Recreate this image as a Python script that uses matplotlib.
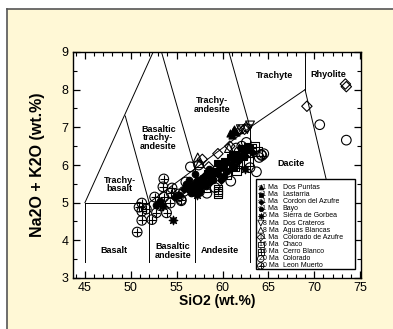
import matplotlib
matplotlib.use("Agg")
from matplotlib import pyplot as plt
from matplotlib.lines import Line2D
from matplotlib.patches import Rectangle
from matplotlib.ticker import MultipleLocator

plt.rcParams['font.family'] = ['Liberation Sans', 'DejaVu Sans']

# --- data (SiO2, Na2O+K2O) ---
dos_puntas_x = [60.8, 61.1, 61.3, 61.0, 61.5]
dos_puntas_y = [6.85, 6.90, 6.95, 6.80, 6.88]

lastarria_x = [59.4, 58.3, 60.2, 61.5, 62.0, 57.9, 59.0, 60.8, 62.7, 61.2,
               60.0, 61.0, 62.4, 59.7, 58.7, 63.0, 57.3]
lastarria_y = [6.05, 5.80, 6.10, 6.30, 6.45, 5.60, 5.85, 6.20, 6.50, 5.95,
               6.00, 6.30, 6.40, 5.95, 5.75, 6.45, 5.55]

cordon_x = [56.5, 57.2, 58.0, 58.6, 59.2, 60.0, 61.7, 62.5, 57.6, 59.8, 63.2, 55.8,
            56.9, 57.9, 58.9, 59.5, 60.4, 61.2, 62.0, 56.2, 58.4]
cordon_y = [5.45, 5.60, 5.70, 5.55, 5.80, 5.95, 6.10, 6.25, 5.30, 5.60, 6.35, 5.35,
            5.50, 5.50, 5.65, 5.75, 6.05, 6.15, 6.20, 5.35, 5.70]

bayo_x = [56.0, 56.8, 57.5, 58.2, 59.0, 60.5, 58.5, 57.0, 61.0, 55.3, 54.8, 53.2, 52.8,
          56.3, 57.8, 58.8, 59.6, 60.2, 61.5, 62.2, 56.6, 57.3, 58.0]
bayo_y = [5.50, 5.35, 5.50, 5.45, 5.60, 5.85, 5.90, 5.75, 6.05, 5.20, 5.15, 5.05, 4.95,
          5.60, 5.65, 5.75, 5.90, 5.70, 6.20, 6.35, 5.25, 5.40, 5.55]

gorbea_x = [54.6, 57.2, 57.0, 62.5, 53.5]
gorbea_y = [4.53, 5.20, 5.25, 5.90, 4.90]

crateros_x = [63.0, 62.7, 62.0]
crateros_y = [7.05, 6.95, 6.95]

aguas_x = [57.3, 57.5, 61.8, 60.7]
aguas_y = [6.20, 6.05, 6.95, 6.45]

col_azufre_x = [73.4, 73.5, 69.2, 62.4, 62.6, 59.5, 60.8, 58.5, 57.8]
col_azufre_y = [8.15, 8.08, 7.56, 6.95, 7.00, 6.30, 6.50, 5.95, 6.15]

chaco_x = [59.5, 59.5, 61.5, 61.7, 63.5, 63.8, 62.8, 60.5, 58.2]
chaco_y = [5.25, 5.35, 5.85, 6.05, 6.50, 6.35, 6.10, 5.75, 5.40]

cerro_x = [59.5, 61.3, 63.2, 62.2, 60.2]
cerro_y = [5.30, 5.95, 6.45, 6.25, 6.00]

colorado_x = [70.6, 73.5, 56.5, 60.9, 63.7, 63.0, 62.6, 64.2, 55.5, 55.2, 60.0,
              59.2, 58.3, 61.5, 55.8, 57.4, 62.1, 64.0, 64.5, 56.0, 61.8]
colorado_y = [7.07, 6.66, 5.95, 5.57, 5.82, 5.93, 6.60, 6.28, 5.05, 5.15, 5.85,
              5.40, 5.25, 6.45, 5.30, 6.00, 6.50, 6.20, 6.30, 5.55, 6.35]

leon_x = [50.7, 51.2, 51.2, 51.2, 50.9, 52.3, 52.8, 53.2, 53.6, 52.6, 54.4, 54.5,
          53.6, 53.5, 54.3, 55.2, 55.5, 51.7, 53.9, 64.3, 56.3, 58.2, 57.5]
leon_y = [4.22, 4.53, 4.77, 4.99, 4.88, 4.55, 4.73, 4.92, 5.15, 5.15, 5.26, 5.39,
          5.63, 5.42, 4.99, 5.23, 5.08, 4.83, 4.73, 6.25, 5.40, 5.60, 5.30]

ages = ['<1 Ma', '<1 Ma', '<1 Ma', '<1 Ma', '5 Ma', '8 Ma', '8 Ma',
        '11 Ma', '16 Ma', '16 Ma', '20 Ma', '20 Ma']
names = ['Dos Puntas', 'Lastarria', 'Cordon del Azufre', 'Bayo',
         'Sierra de Gorbea', 'Dos Crateros', 'Aguas Blancas',
         'Colorado de Azufre', 'Chaco', 'Cerro Blanco', 'Colorado', 'Leon Muerto']

# TAS field boundaries
tas_lines = [
    ([45, 45], [3.43, 5]), ([52, 52], [3.43, 5]), ([57, 57], [3.43, 5.9]),
    ([63, 63], [3.43, 7]), ([45, 52], [5, 5]),
    ([52, 57, 63, 69], [5, 5.9, 7, 8]),
    ([45, 52.44], [5, 9]), ([52, 49.4], [5, 7.3]),
    ([57, 53.35], [5.9, 9]), ([63, 60.7], [7, 9]),
    ([69, 69], [8, 9]), ([69, 72.0], [8, 4.9]),
]
field_labels = [
    (48.2, 3.73, 'Basalt'), (54.6, 3.72, 'Basaltic\nandesite'),
    (59.7, 3.73, 'Andesite'), (67.5, 6.03, 'Dacite'),
    (48.8, 5.48, 'Trachy-\nbasalt'), (53.0, 6.72, 'Basaltic\ntrachy-\nandesite'),
    (58.9, 7.60, 'Trachy-\nandesite'), (65.7, 8.37, 'Trachyte'),
    (71.5, 8.40, 'Rhyolite'),
]

fig = plt.figure(figsize=(3.93, 3.29), dpi=100)
fig.patch.set_facecolor('white')
W, H = 393.0, 329.0
fig.add_artist(Rectangle((7 / W, 0), 1, 1 - 9 / H, transform=fig.transFigure,
                         facecolor='#fff8d6', edgecolor='none', zorder=-10))
fig.add_artist(Line2D([7 / W, 1], [1 - 9 / H, 1 - 9 / H], transform=fig.transFigure,
                      color='#555555', lw=1.2))
fig.add_artist(Line2D([7 / W, 7 / W], [0, 1 - 9 / H], transform=fig.transFigure,
                      color='#555555', lw=1.2))

ax = fig.add_axes([73 / W, 1 - 278 / H, 288 / W, 226 / H])
ax.set_facecolor('white')

for xs, ys in tas_lines:
    ax.plot(xs, ys, color='black', lw=0.7, zorder=1)
for x, y, t in field_labels:
    ax.text(x, y, t, ha='center', va='center', fontsize=6.5, fontweight='bold',
            linespacing=0.95, zorder=2)

# marker styles per group
styles = [
    dict(marker='^', s=26, facecolors='black', edgecolors='black'),
    dict(marker='s', s=24, facecolors='black', edgecolors='black'),
    dict(marker='D', s=16, facecolors='black', edgecolors='black'),
    dict(marker='o', s=22, facecolors='black', edgecolors='black'),
    dict(marker=(8, 1, 0), s=40, facecolors='black', edgecolors='black'),
    dict(marker='v', s=40, facecolors='none', edgecolors='black'),
    dict(marker='^', s=40, facecolors='none', edgecolors='black'),
    dict(marker='D', s=28, facecolors='none', edgecolors='black'),
    dict(marker='s', s=40, facecolors='none', edgecolors='black'),
    dict(marker='s', s=40, facecolors='none', edgecolors='black'),
    dict(marker='o', s=48, facecolors='none', edgecolors='black'),
    dict(marker='o', s=48, facecolors='none', edgecolors='black'),
]
with_plus = [False] * 9 + [True, False, True]
groups = [(dos_puntas_x, dos_puntas_y), (lastarria_x, lastarria_y),
          (cordon_x, cordon_y), (bayo_x, bayo_y), (gorbea_x, gorbea_y),
          (crateros_x, crateros_y), (aguas_x, aguas_y),
          (col_azufre_x, col_azufre_y), (chaco_x, chaco_y), (cerro_x, cerro_y),
          (colorado_x, colorado_y), (leon_x, leon_y)]

order = [11, 10, 9, 8, 7, 6, 5, 4, 3, 2, 1, 0]
for i in order:
    gx, gy = groups[i]
    ax.scatter(gx, gy, linewidths=0.8, zorder=3, **styles[i])
    if with_plus[i]:
        ax.scatter(gx, gy, marker='+', s=40, color='black', linewidths=0.8, zorder=3)

# legend box drawn by hand so the age column lines up
ax.add_patch(Rectangle((0.634, 0.038), 0.345, 0.40, transform=ax.transAxes,
                       facecolor='white', edgecolor='black', lw=1.0, zorder=5))
for k in range(12):
    yy = 0.401 - k * 0.0316
    st = dict(styles[k])
    st['s'] = st['s'] * 0.45
    ax.scatter([0.652], [yy], transform=ax.transAxes, linewidths=0.6, zorder=6,
               clip_on=False, **st)
    if with_plus[k]:
        ax.scatter([0.652], [yy], transform=ax.transAxes, marker='+', s=18,
                   color='black', linewidths=0.6, zorder=6)
    ax.text(0.713, yy, ages[k], transform=ax.transAxes, ha='right', va='center',
            fontsize=5, zorder=6)
    ax.text(0.728, yy, names[k], transform=ax.transAxes, ha='left', va='center',
            fontsize=5, zorder=6)

ax.set_xlim(43.7, 75.1)
ax.set_ylim(3, 9)
ax.xaxis.set_major_locator(MultipleLocator(5))
ax.xaxis.set_minor_locator(MultipleLocator(1))
ax.yaxis.set_major_locator(MultipleLocator(1))
ax.yaxis.set_minor_locator(MultipleLocator(0.5))
ax.tick_params(which='both', direction='in', top=True, right=True, labelsize=9, pad=3)
ax.tick_params(which='major', length=5, width=0.9)
ax.tick_params(which='minor', length=3, width=0.8)
for sp in ax.spines.values():
    sp.set_linewidth(1.0)

ax.set_xlabel('SiO2 (wt.%)', fontsize=10, fontweight='bold', labelpad=0)
ax.set_ylabel('Na2O + K2O (wt.%)', fontsize=11.5, fontweight='bold', labelpad=12)

fig.savefig('out.png', dpi=100)
